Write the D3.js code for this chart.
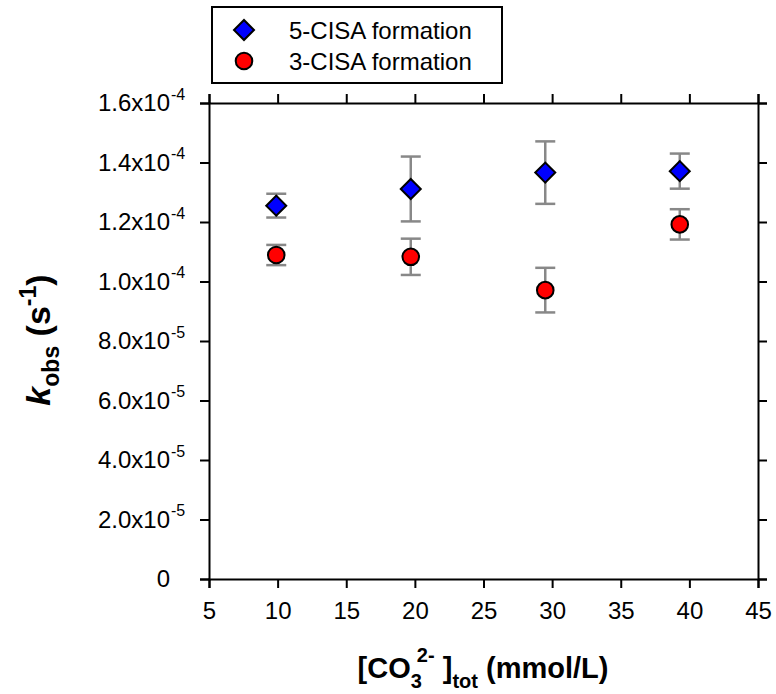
<!DOCTYPE html>
<html>
<head>
<meta charset="utf-8">
<script src="https://cdn.jsdelivr.net/npm/d3@7"></script>
<style>
  body { margin: 0; background: #fff; }
  svg text { font-family: "Liberation Sans", Arial, sans-serif; fill: #000; }
</style>
</head>
<body>
<div id="chart"></div>
<script>
// carbonate concentration (mmol/L)
const carbonate = [9.9, 19.7, 29.5, 39.3];
// 5-CISA formation rate constants and error
const cisa5 = [1.255e-4, 1.311e-4, 1.366e-4, 1.371e-4];
const cisa5Err = [0.040e-4, 0.109e-4, 0.105e-4, 0.059e-4];
// 3-CISA formation rate constants and error
const cisa3 = [1.089e-4, 1.083e-4, 0.971e-4, 1.192e-4];
const cisa3Err = [0.034e-4, 0.061e-4, 0.075e-4, 0.051e-4];

const xTicks = [5, 10, 15, 20, 25, 30, 35, 40, 45];
const yTicks = [0, 2e-5, 4e-5, 6e-5, 8e-5, 1.0e-4, 1.2e-4, 1.4e-4, 1.6e-4];
const yTickMain = ['0', '2.0x10', '4.0x10', '6.0x10', '8.0x10', '1.0x10', '1.2x10', '1.4x10', '1.6x10'];
const yTickExp = ['', '-5', '-5', '-5', '-5', '-4', '-4', '-4', '-4'];

const seriesNames = ['5-CISA formation', '3-CISA formation'];

const W = 776, H = 694;
const margin = {top: 103, right: 18, bottom: 115, left: 209};
const width = W - margin.left - margin.right;
const height = H - margin.top - margin.bottom;

const svg = d3.select('#chart').append('svg')
  .attr('width', W)
  .attr('height', H);

const g = svg.append('g')
  .attr('transform', `translate(${margin.left},${margin.top})`);

const x = d3.scaleLinear().domain([5, 45]).range([0, width]);
const y = d3.scaleLinear().domain([0, 1.6e-4]).range([height, 0]);

const tickFont = 24;

// axes on all four sides, ticks pointing out
g.append('g')
  .attr('transform', `translate(0,${height})`)
  .call(d3.axisBottom(x).tickValues(xTicks).tickSize(9).tickPadding(14).tickFormat(d3.format('d')));
g.append('g')
  .call(d3.axisTop(x).tickValues(xTicks).tickSize(9).tickFormat(''));
const yAxis = g.append('g')
  .call(d3.axisLeft(y).tickValues(yTicks).tickSize(9).tickPadding(30).tickFormat((d, i) => yTickMain[i]));
g.append('g')
  .attr('transform', `translate(${width},0)`)
  .call(d3.axisRight(y).tickValues(yTicks).tickSize(9).tickFormat(''));

g.selectAll('.domain').attr('stroke', '#000').attr('stroke-width', 2);
g.selectAll('.tick line').attr('stroke', '#000').attr('stroke-width', 2);
g.selectAll('.tick text').style('font-size', tickFont + 'px').attr('fill', '#000');

// superscript exponents hanging past the right-aligned mantissa
yAxis.selectAll('.tick').each(function(d, i) {
  if (!yTickExp[i]) return;
  d3.select(this).append('text')
    .attr('x', -38)
    .attr('y', -4)
    .attr('text-anchor', 'start')
    .style('font-size', '16px')
    .attr('fill', '#000')
    .text(yTickExp[i]);
});

// error bars
function errorBars(vals, errs) {
  const cap = 10;
  const eb = g.append('g').attr('stroke', '#888').attr('stroke-width', 2.5).attr('fill', 'none');
  carbonate.forEach((c, i) => {
    const cx = x(c), y1 = y(vals[i] + errs[i]), y2 = y(vals[i] - errs[i]);
    eb.append('line').attr('x1', cx).attr('x2', cx).attr('y1', y1).attr('y2', y2);
    eb.append('line').attr('x1', cx - cap).attr('x2', cx + cap).attr('y1', y1).attr('y2', y1);
    eb.append('line').attr('x1', cx - cap).attr('x2', cx + cap).attr('y1', y2).attr('y2', y2);
  });
}
errorBars(cisa5, cisa5Err);
errorBars(cisa3, cisa3Err);

const diamond = d3.symbol().type(d3.symbolSquare).size(200);

g.selectAll('.diamond')
  .data(carbonate)
  .join('path')
  .attr('class', 'diamond')
  .attr('d', diamond)
  .attr('transform', (d, i) => `translate(${x(d)},${y(cisa5[i])}) rotate(45)`)
  .attr('fill', '#0000ff')
  .attr('stroke', '#000')
  .attr('stroke-width', 2);

g.selectAll('.dot')
  .data(carbonate)
  .join('circle')
  .attr('class', 'dot')
  .attr('cx', d => x(d))
  .attr('cy', (d, i) => y(cisa3[i]))
  .attr('r', 8.3)
  .attr('fill', '#ff0000')
  .attr('stroke', '#000')
  .attr('stroke-width', 2);

// legend
const legend = svg.append('g');
legend.append('rect')
  .attr('x', 212).attr('y', 7).attr('width', 290).attr('height', 76)
  .attr('fill', '#fff').attr('stroke', '#000').attr('stroke-width', 2);
legend.append('path')
  .attr('d', diamond)
  .attr('transform', 'translate(244,30) rotate(45)')
  .attr('fill', '#0000ff').attr('stroke', '#000').attr('stroke-width', 2);
legend.append('circle')
  .attr('cx', 244).attr('cy', 61).attr('r', 8.3)
  .attr('fill', '#ff0000').attr('stroke', '#000').attr('stroke-width', 2);
legend.selectAll('.ltext')
  .data(seriesNames)
  .join('text')
  .attr('x', 289)
  .attr('y', (d, i) => 39 + i * 31)
  .style('font-size', '24px')
  .text(d => d);

// x axis title
const xt = svg.append('text')
  .attr('x', 483).attr('y', 678)
  .attr('text-anchor', 'middle')
  .style('font-size', '29px').style('font-weight', 'bold');
xt.append('tspan').text('[CO');
xt.append('tspan').attr('dy', 10).style('font-size', '20px').text('3');
xt.append('tspan').attr('dx', -5).attr('dy', -26).style('font-size', '20px').text('2-');
xt.append('tspan').attr('dy', 16).text(' ]');
xt.append('tspan').attr('dy', 10).style('font-size', '20px').text('tot');
xt.append('tspan').attr('dy', -10).text(' (mmol/L)');

// y axis title
const yt = svg.append('text')
  .attr('transform', 'translate(50,340) rotate(-90)')
  .attr('text-anchor', 'middle')
  .style('font-size', '34px').style('font-weight', 'bold');
yt.append('tspan').style('font-style', 'italic').text('k');
yt.append('tspan').attr('dy', 9).style('font-size', '23px').text('obs');
yt.append('tspan').attr('dy', -9).text(' (s');
yt.append('tspan').attr('dy', -14).style('font-size', '23px').text('-1');
yt.append('tspan').attr('dy', 14).text(')');
</script>
</body>
</html>
